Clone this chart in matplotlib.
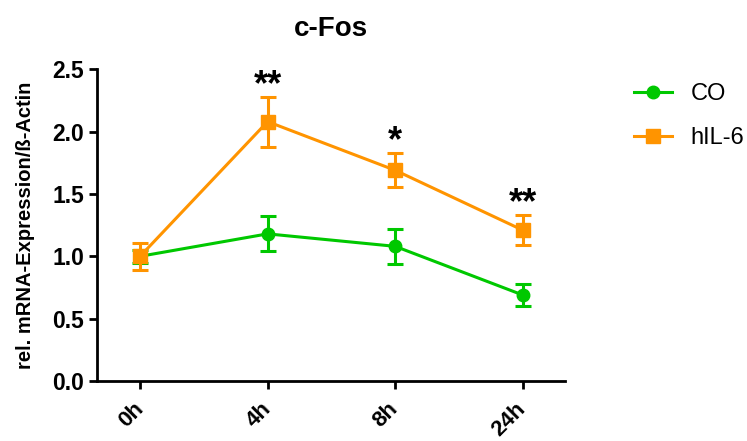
import numpy as np
from matplotlib import pyplot as plt
from matplotlib.lines import Line2D

plt.rcParams['font.family'] = ['Liberation Sans', 'DejaVu Sans']

times = ['0h', '4h', '8h', '24h']
co_mean = [1.00, 1.18, 1.08, 0.69]
co_sem = [0.05, 0.14, 0.14, 0.087]
il6_mean = [1.00, 2.08, 1.69, 1.21]
il6_sem = [0.11, 0.20, 0.135, 0.12]
stars = ['', '**', '*', '**']

green = '#00c800'
orange = '#ff9400'

fig = plt.figure(figsize=(7.47, 4.41), dpi=100)
ax = fig.add_axes([0.130, 0.136, 0.626, 0.707])

x = np.arange(len(times))
ax.errorbar(x, co_mean, yerr=co_sem, color=green, marker='o', markersize=9,
            linewidth=2.2, elinewidth=2.2, capsize=6, capthick=2.2, zorder=3)
ax.errorbar(x, il6_mean, yerr=il6_sem, color=orange, marker='s', markersize=10,
            linewidth=2.2, elinewidth=2.2, capsize=6, capthick=2.2, zorder=4)

# significance marks above hIL-6 error bars
for xi, m, s, lab in zip(x, il6_mean, il6_sem, stars):
    if lab:
        ax.text(xi, m + s - 0.05, lab, ha='center', va='bottom', fontsize=26, fontweight='bold')

ax.set_xlim(-0.337, 3.33)
ax.set_ylim(0, 2.5)
ax.set_yticks([0, 0.5, 1.0, 1.5, 2.0, 2.5])
ax.set_yticklabels(['0.0', '0.5', '1.0', '1.5', '2.0', '2.5'], fontsize=16.5, fontweight='bold')
ax.set_xticks(x)
ax.set_xticklabels(times, rotation=45, ha='right', va='center', rotation_mode='anchor',
                   fontsize=16, fontweight='bold')
ax.spines['top'].set_visible(False)
ax.spines['right'].set_visible(False)
ax.spines['left'].set_linewidth(2)
ax.spines['bottom'].set_linewidth(2)
ax.tick_params(axis='both', width=2, length=6)
ax.tick_params(axis='x', pad=12)
ax.set_ylabel('rel. mRNA-Expression/ß-Actin', fontsize=14.5, fontweight='bold', labelpad=12)
ax.set_title('c-Fos', fontsize=20, fontweight='bold', pad=24)

handles = [Line2D([], [], color=green, marker='o', markersize=9, linewidth=2.2),
           Line2D([], [], color=orange, marker='s', markersize=10, linewidth=2.2)]
fig.legend(handles, ['CO', 'hIL-6'], loc='upper left', bbox_to_anchor=(0.82, 0.86), frameon=False,
           fontsize=17, handlelength=1.6, labelspacing=0.95, handletextpad=0.8)

fig.savefig('out.png', dpi=100)
